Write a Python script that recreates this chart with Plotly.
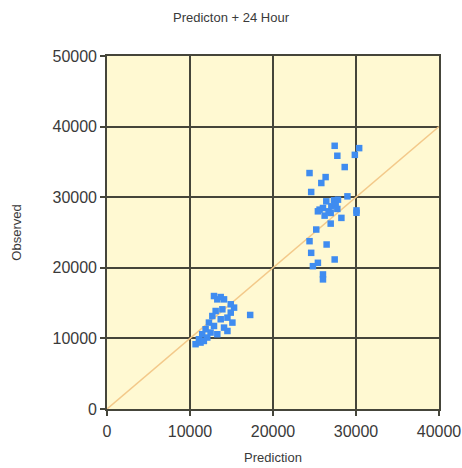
import plotly.graph_objects as go

# Observed vs predicted load, 24-hour-ahead forecast
pred_high = [27430, 30380, 29860, 27750, 28640, 24400, 26340, 25820, 24600, 28970,
             25610, 26020, 26420, 26700, 27030, 27350, 27550, 27750, 26220, 26950,
             25410, 27830, 28240, 30060, 30060, 26950, 25210, 24400, 26460, 24600,
             27430, 25410, 24810, 26020, 26020]
obs_high = [37280, 36950, 36000, 35870, 34270, 33420, 32850, 32010, 30740, 30120,
            28240, 28470, 29410, 28000, 28710, 29560, 28950, 28340, 27390, 27770,
            28000, 29650, 27070, 28130, 27800, 26260, 25420, 23770, 23300, 22120,
            21180, 20710, 20230, 19060, 18360]

pred_low = [12890, 13700, 13290, 14100, 15310, 14910, 13900, 13090, 12690, 14510,
            13700, 15110, 12280, 12890, 14100, 11880, 12480, 13290, 11470, 12080,
            11070, 11270, 10670, 11670, 14510, 14910, 17250]
obs_low = [16000, 15860, 15530, 15530, 14360, 13650, 14120, 13880, 13170, 12940,
           12710, 12240, 12240, 11760, 11530, 11300, 10830, 10590, 10590, 10120,
           9880, 9410, 9180, 9640, 11050, 14830, 13320]

x_ticks = [0, 10000, 20000, 30000, 40000]
y_ticks = [0, 10000, 20000, 30000, 40000, 50000]
ref_line = [0, 40000]

fig = go.Figure()
fig.add_trace(go.Scatter(x=ref_line, y=ref_line, mode="lines",
                         line=dict(color="#f3c98a", width=1.5), hoverinfo="skip"))
fig.add_trace(go.Scatter(x=pred_high + pred_low, y=obs_high + obs_low, mode="markers",
                         marker=dict(symbol="square", size=6.5, color="#3f8cf0")))

axis_common = dict(showgrid=True, gridcolor="#45453a", gridwidth=1.6,
                   showline=True, linecolor="#45453a", linewidth=1.6, mirror=True,
                   ticks="outside", ticklen=5, tickcolor="#45453a", tickwidth=1.5,
                   zeroline=False, automargin=False,
                   tickfont=dict(family="Liberation Sans", size=16, color="#3a3a3a"))

fig.update_layout(
    width=462, height=468,
    margin=dict(l=107, r=23, t=56, b=59),
    paper_bgcolor="white", plot_bgcolor="#fff9d2",
    showlegend=False,
    title=dict(text="Predicton + 24 Hour", x=0.5, xanchor="center", y=0.963, yanchor="middle",
               font=dict(family="Liberation Sans", size=13, color="#3a3a3a")),
    xaxis=dict(range=[0, 40000], tickvals=x_ticks, ticktext=[str(v) for v in x_ticks],
               ticklabelstandoff=2,
               title=dict(text="Prediction", standoff=14,
                          font=dict(family="Liberation Sans", size=13, color="#3a3a3a")),
               **axis_common),
    yaxis=dict(range=[0, 50000], tickvals=y_ticks, ticktext=[str(v) for v in y_ticks],
               title=dict(text="Observed", standoff=28,
                          font=dict(family="Liberation Sans", size=13, color="#3a3a3a")),
               **axis_common),
)

fig.write_html("out.html")
